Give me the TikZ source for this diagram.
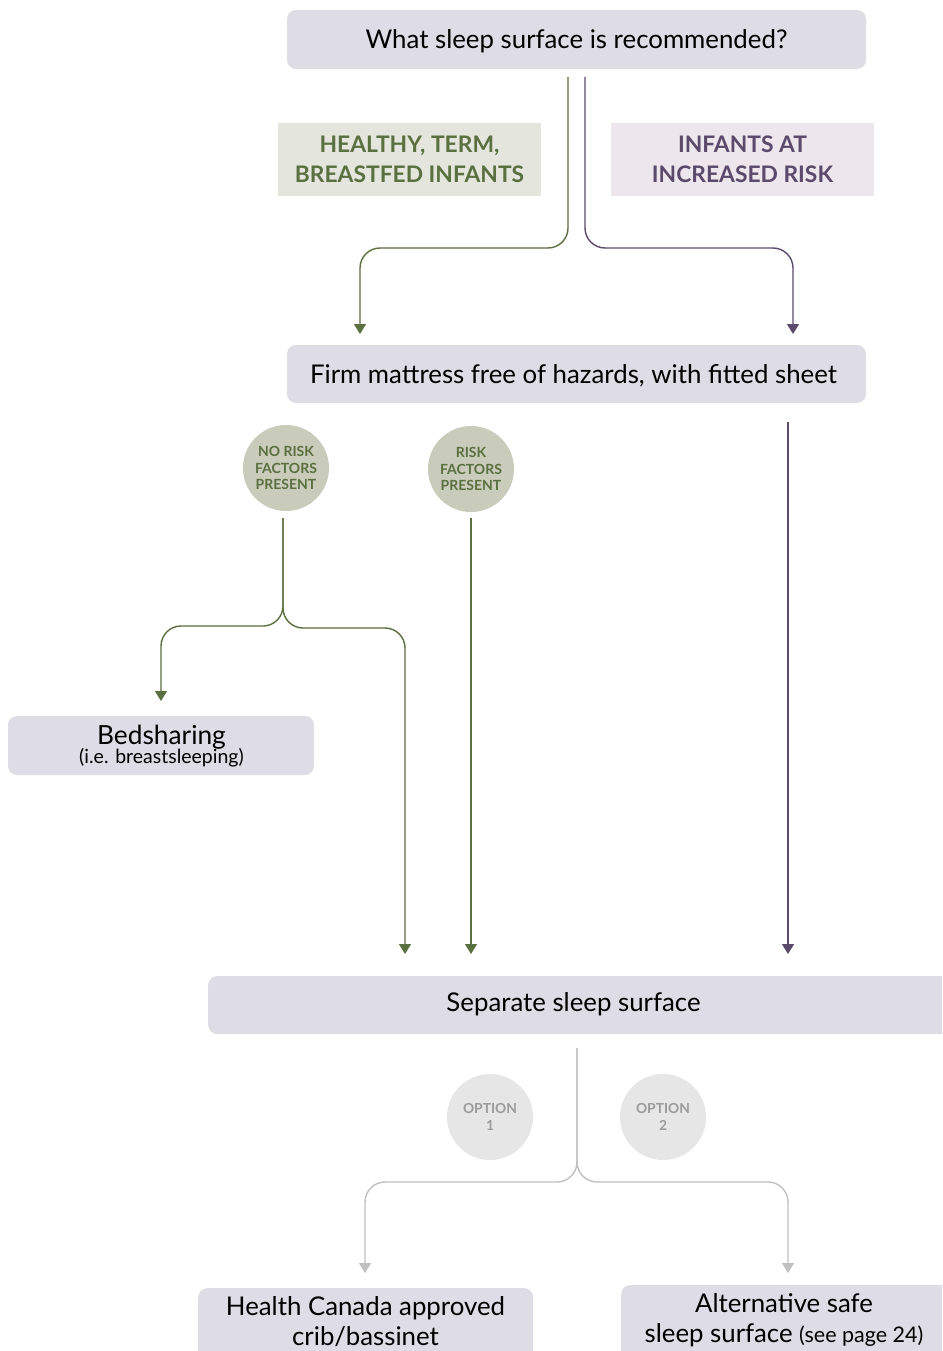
\documentclass[tikz,border=0pt]{standalone}
\usepackage{fontspec}
\setmainfont{Lato}
\usetikzlibrary{arrows.meta}
\definecolor{boxfill}{RGB}{222,220,228}
\definecolor{glabel}{RGB}{228,229,220}
\definecolor{gtext}{RGB}{90,112,64}
\definecolor{plabel}{RGB}{237,230,236}
\definecolor{ptext}{RGB}{91,74,107}
\definecolor{gcirc}{RGB}{201,203,187}
\definecolor{ocirc}{RGB}{230,230,231}
\definecolor{otext}{RGB}{155,155,155}
\definecolor{gline}{RGB}{192,192,192}
\tikzset{
  mainbox/.style={draw=none, fill=boxfill, rounded corners=9pt, align=center, text=black, inner sep=0pt},
  bigtext/.style={font=\fontsize{25.8}{30}\selectfont},
  lbox/.style={draw=none, minimum width=263pt, minimum height=73pt, align=center, inner sep=0pt, font=\fontsize{22.8}{29.5}\selectfont\bfseries},
  gcircle/.style={circle, fill=gcirc, minimum size=86pt, inner sep=0pt, align=center, text=gtext, font=\fontsize{14}{16.5}\selectfont\bfseries},
  ocircle/.style={circle, fill=ocirc, minimum size=86pt, inner sep=0pt, align=center, text=otext, font=\fontsize{13.8}{17}\selectfont\bfseries},
  garrow/.style={draw=gtext, line width=1.4pt, rounded corners=20pt, -{Triangle[width=12pt,length=10pt]}},
  parrow/.style={draw=ptext, line width=1.4pt, rounded corners=20pt, -{Triangle[width=12pt,length=10pt]}},
  oarrow/.style={draw=gline, line width=1.4pt, rounded corners=20pt, -{Triangle[width=12pt,length=10pt]}},
}
\begin{document}
\begin{tikzpicture}[x=1pt,y=-1pt]
\clip (0,0) rectangle (942,1351);
\fill[white] (0,0) rectangle (942,1351);
% boxes
\node[mainbox, minimum width=579pt, minimum height=59pt] (top) at (576.5,39.5) {};
\node[bigtext] (toptext) at (576.5,41) {What sleep surface is recommended?};
\node[lbox, fill=glabel, text=gtext] (healthy) at (409.5,159.5) {HEALTHY, TERM,\\BREASTFED INFANTS};
\node[lbox, fill=plabel, text=ptext] (risk) at (742.5,159.5) {INFANTS AT\\INCREASED RISK};
\node[mainbox, minimum width=579pt, minimum height=58pt] (firm) at (576.5,374) {};
\node[bigtext] (firmtext) at (573.5,376) {Firm mattress free of hazards, with fitted sheet};
\node[gcircle] (norf) at (286,468) {NO RISK\\FACTORS\\PRESENT};
\node[gcircle] (rf) at (471,469) {RISK\\FACTORS\\PRESENT};
\node[mainbox, minimum width=306pt, minimum height=59pt] (bed) at (161,745.5) {};
\node[font=\fontsize{26.3}{26}\selectfont] (bedtext) at (161.5,737) {Bedsharing};
\node[font=\fontsize{19.5}{20}\selectfont] (bedsub) at (161.5,758) {(i.e. breastsleeping)};
\node[mainbox, minimum width=744pt, minimum height=58pt, anchor=west] (sep) at (208,1005) {};
\node[bigtext] (septext) at (573.5,1004) {Separate sleep surface};
\node[ocircle] (opt1) at (490,1117) {OPTION\\1};
\node[ocircle] (opt2) at (663,1117) {OPTION\\2};
\node[mainbox, minimum width=335pt, minimum height=80pt, anchor=north west] (crib) at (198,1288) {};
\node[font=\fontsize{25.8}{30}\selectfont, align=center] (cribtext) at (365.5,1322) {Health Canada approved\\crib/bassinet};
\node[mainbox, minimum width=335pt, minimum height=80pt, anchor=north west] (alt) at (621,1285) {};
\node[font=\fontsize{25.8}{30}\selectfont, align=center] (alttext) at (784,1320) {Alternative safe\\sleep surface {\fontsize{21.5}{20}\selectfont(see page 24)}};
% coordinates
\coordinate (g0) at (568,77);
\coordinate (p0) at (585,77);
\coordinate (gend) at (360,334);
\coordinate (pend) at (793,334);
\coordinate (pr0) at (788,422);
\coordinate (prend) at (788,954);
\coordinate (n0) at (283,518);
\coordinate (bedend) at (161,701);
\coordinate (n2end) at (405,954);
\coordinate (r0) at (471,518);
\coordinate (rend) at (471,954);
\coordinate (s0) at (577,1048);
\coordinate (o1end) at (365,1273);
\coordinate (o2end) at (788,1273);
% connectors
\draw[garrow] (g0) -- (568,248) -- (gend |- 0,248) -- (gend);
\draw[parrow] (p0) -- (585,248) -- (pend |- 0,248) -- (pend);
\draw[parrow] (pr0) -- (prend);
\draw[garrow] (n0) -- (283,626) -- (bedend |- 0,626) -- (bedend);
\draw[garrow] (n0) -- (283,628) -- (n2end |- 0,628) -- (n2end);
\draw[garrow] (r0) -- (rend);
\draw[oarrow] (s0) -- (577,1182) -- (o1end |- 0,1182) -- (o1end);
\draw[oarrow] (s0) -- (577,1182) -- (o2end |- 0,1182) -- (o2end);
\end{tikzpicture}
\end{document}
